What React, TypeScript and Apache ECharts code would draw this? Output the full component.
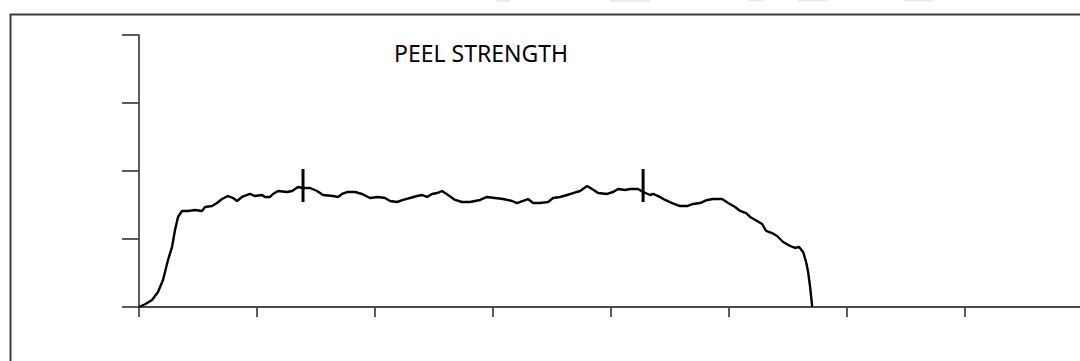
import React, { useEffect, useRef } from "react";
import * as echarts from "echarts";

// Peel distance (mm) and force (N)
const peelX = [
  0, 1.02, 2.21, 3.22, 4.07, 4.92, 5.6, 6.11, 6.62, 7.29, 8.31, 9.5, 10.69, 11.2, 12.38, 13.23, 14.08, 15.1, 15.95,
  16.62, 17.47, 18.83, 19.68, 20.87, 21.37, 22.22, 22.73, 23.58, 25.11, 25.96, 26.97, 27.82, 29.01, 30.2, 31.21,
  32.91, 33.76, 34.44, 35.29, 36.64, 37.83, 39.19, 40.54, 41.73, 42.58, 43.77, 44.79, 45.97, 47.16, 48.01, 48.86,
  49.7, 50.55, 51.4, 52.42, 53.61, 54.79, 56.15, 57.85, 59.03, 60.39, 61.75, 63.28, 64.12, 65.14, 65.99, 66.84,
  68.03, 69.38, 70.23, 71.42, 72.61, 73.62, 74.81, 76.0, 76.85, 77.87, 79.4, 80.41, 81.26, 82.45, 83.29, 84.65,
  85.5, 86.69, 87.2, 88.04, 89.23, 90.42, 91.78, 92.96, 93.98, 95.17, 96.36, 97.37, 98.9, 99.92, 101.11, 101.96,
  102.97, 103.65, 104.84, 105.69, 106.37, 107.38, 108.23, 109.25, 110.44, 111.28, 111.96, 112.64, 113.15, 113.49,
  113.83, 114.17, 114.17,
];
const peelY = [
  0, 0.4, 1.03, 2.21, 3.97, 6.91, 8.82, 11.32, 13.24, 14.12, 14.12, 14.26, 14.12, 14.71, 14.85, 15.29, 15.88, 16.32,
  16.03, 15.59, 16.18, 16.62, 16.32, 16.47, 16.18, 16.18, 16.62, 17.06, 16.91, 17.06, 17.65, 17.5, 17.5, 17.06,
  16.47, 16.32, 16.18, 16.62, 16.91, 16.91, 16.62, 16.03, 16.18, 16.03, 15.59, 15.44, 15.74, 16.03, 16.32, 16.47,
  16.18, 16.62, 16.76, 17.06, 16.47, 15.74, 15.44, 15.44, 15.74, 16.18, 16.03, 15.88, 15.59, 15.29, 15.59, 15.88,
  15.29, 15.29, 15.44, 16.03, 16.18, 16.47, 16.76, 17.06, 17.79, 17.35, 16.76, 16.62, 16.91, 17.35, 17.21, 17.35,
  17.35, 16.91, 16.47, 16.62, 16.32, 15.74, 15.29, 14.85, 14.85, 15.15, 15.29, 15.74, 15.88, 15.88, 15.29, 14.71,
  14.12, 13.82, 13.24, 12.65, 12.21, 11.18, 10.88, 10.44, 9.56, 8.97, 8.68, 8.82, 8.09, 6.62, 5.15, 2.94, 0.15, 0,
];

// Averaging-range markers
const markerX = [27.82, 85.5];
const markerLow = [15.44, 15.44];
const markerHigh = [20.29, 20.29];

const titleText = "PEEL STRENGTH";
const xMin = 0;
const xMax = 161.3;
const xStep = 20;
const yMin = 0;
const yMax = 40;
const yStep = 10;

// faint cut-off shapes at the very top of the picture
const topSlivers = [
  [497, 13],
  [610, 40],
  [748, 15],
  [798, 29],
  [904, 29],
];

export default function App() {
  const ref = useRef<HTMLDivElement>(null);
  useEffect(() => {
    document.body.style.margin = "0";
    const chart = echarts.init(ref.current!, null, { renderer: "svg" });
    const curve = peelX.map((x, i) => [x, peelY[i]]);
    const markerSeries = markerX.map((x, i) => ({
      type: "line" as const,
      data: [
        [x, markerLow[i]],
        [x, markerHigh[i]],
      ],
      symbol: "none",
      lineStyle: { color: "#000", width: 3 },
      z: 5,
    }));
    chart.setOption({
      animation: false,
      backgroundColor: "#ffffff",
      grid: { left: 139, right: 0, top: 35, bottom: 54, containLabel: false },
      xAxis: {
        type: "value",
        min: xMin,
        max: xMax,
        interval: xStep,
        axisLine: { show: true, lineStyle: { color: "#4a4a4a", width: 1.8 } },
        axisTick: { show: true, length: 10, lineStyle: { color: "#4a4a4a", width: 1.8 } },
        axisLabel: { show: false },
        splitLine: { show: false },
      },
      yAxis: {
        type: "value",
        min: yMin,
        max: yMax,
        interval: yStep,
        axisLine: { show: true, lineStyle: { color: "#4a4a4a", width: 1.8 } },
        axisTick: { show: true, length: 17, lineStyle: { color: "#4a4a4a", width: 1.8 } },
        axisLabel: { show: false },
        splitLine: { show: false },
      },
      series: [
        {
          type: "line",
          data: curve,
          symbol: "none",
          smooth: false,
          lineStyle: { color: "#000", width: 2.4 },
          z: 4,
        },
        ...markerSeries,
      ],
      graphic: [
        {
          type: "rect",
          shape: { x: 10.5, y: 14.5, width: 1200, height: 500 },
          style: { fill: "none", stroke: "#3c3c3c", lineWidth: 2 },
          silent: true,
        },
        ...topSlivers.map(([x, w]) => ({
          type: "rect",
          shape: { x, y: 0, width: w, height: 1.5 },
          style: { fill: "#e8e8e8" },
          silent: true,
        })),
        {
          type: "text",
          x: 394,
          y: 53,
          style: {
            text: titleText,
            fill: "#000",
            font: '23px "Noto Sans", sans-serif',
            verticalAlign: "middle",
          },
        },
      ],
    });
    return () => chart.dispose();
  }, []);
  return (
    <div style={{ position: "absolute", left: 0, top: 0, width: 1080, height: 361, overflow: "hidden" }}>
      <div ref={ref} style={{ width: 1090, height: 361 }} />
    </div>
  );
}
